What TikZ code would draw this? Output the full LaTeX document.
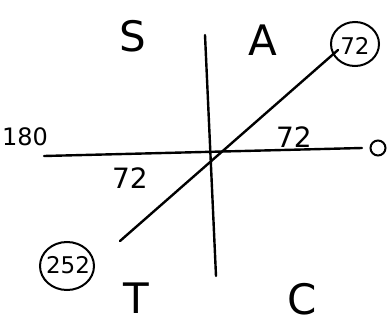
\documentclass[tikz,border=0pt]{standalone}
\usepackage{fontspec}
\setmainfont{DejaVu Sans}
\begin{document}
\begin{tikzpicture}[x=1pt,y=-1pt,
  ln/.style={line width=2.4pt,black,line cap=round},
  big/.style={font=\fontsize{42}{42}\selectfont,inner sep=0pt},
  mid/.style={font=\fontsize{28}{28}\selectfont,inner sep=0pt},
  sml/.style={font=\fontsize{23}{23}\selectfont,inner sep=0pt}]
\useasboundingbox (0,0) rectangle (391,324);
\coordinate (top) at (205,35);
\coordinate (bot) at (216,276);
\coordinate (left) at (44,156);
\coordinate (right) at (362,148);
\coordinate (ne) at (338,50);
\coordinate (sw) at (120,241);
\draw[ln] (top) -- (bot);
\draw[ln] (left) -- (right);
\draw[ln] (sw) -- (ne);
\node[draw,circle,line width=2pt,minimum size=15pt,inner sep=0pt] (zero) at (378,148) {};
\node[big] (S) at (133,36) {S};
\node[big] (A) at (263,40) {A};
\node[big] (T) at (136,298) {T};
\node[big] (C) at (302,299) {C};
\node[font=\fontsize{24}{24}\selectfont,inner sep=0pt] (l180) at (25,137) {180};
\node[mid] (r72) at (294,137) {72};
\node[mid] (l72) at (130,178) {72};
\node[sml] (n72) at (355,46) {72};
\draw[line width=2pt] (355,44) ellipse (24 and 22);
\node[sml] (n252) at (68,265) {252};
\draw[line width=2pt] (67,266) ellipse (27 and 24);
\end{tikzpicture}
\end{document}
